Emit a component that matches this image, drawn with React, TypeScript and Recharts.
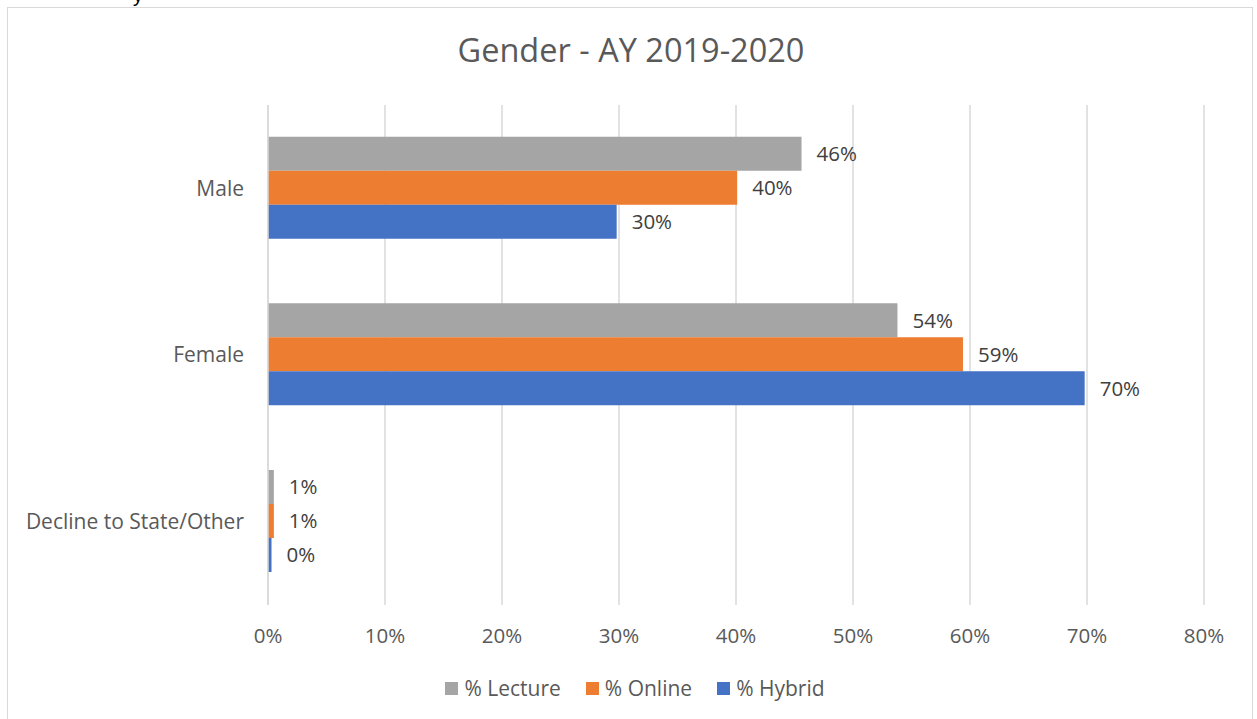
import React from 'react';
import { BarChart, Bar, XAxis, YAxis, CartesianGrid, Legend, LabelList } from 'recharts';

const categories = ['Male', 'Female', 'Decline to State/Other'];
const lecture = [45.6, 53.8, 0.5];
const online = [40.1, 59.4, 0.5];
const hybrid = [29.8, 69.8, 0.3];
const xTicks = [0, 10, 20, 30, 40, 50, 60, 70, 80];
const seriesNames = ['% Lecture', '% Online', '% Hybrid'];
const colors = ['#A5A5A5', '#ED7D31', '#4472C4'];

const data = categories.map((c, i) => ({
  name: c,
  lecture: lecture[i],
  online: online[i],
  hybrid: hybrid[i],
}));

const FONT = '"Open Sans", sans-serif';
const FS = 20.5;

const fmt = (v: any) => `${Math.round(Number(v))}%`;

const LegendContent = () => (
  <div style={{ display: 'flex', justifyContent: 'center', alignItems: 'center', height: 56, marginTop: -3, fontFamily: FONT, fontSize: 21, color: '#595959' }}>
    {seriesNames.map((n, i) => (
      <div key={n} style={{ display: 'flex', alignItems: 'center', marginRight: i < 2 ? 25 : 0 }}>
        <div style={{ width: 13, height: 13, background: colors[i], marginRight: 6 }} />
        <span>{n}</span>
      </div>
    ))}
  </div>
);

export default function App() {
  return (
    <div style={{ position: 'absolute', left: 0, top: 0, width: 1257, height: 719, background: '#fff', overflow: 'hidden' }}>
      <div style={{ position: 'absolute', left: 133, top: -16, fontFamily: '"Liberation Sans", sans-serif', fontSize: 20, color: '#000' }}>y</div>
      <div style={{ position: 'absolute', left: 7, top: 7, width: 1246, height: 730, border: '1.5px solid #D9D9D9', boxSizing: 'border-box' }} />
      <div style={{ position: 'absolute', left: 0, top: 27, width: 1262, textAlign: 'center', fontFamily: FONT, fontSize: 32.5, color: '#595959' }}>
        Gender - AY 2019-2020
      </div>
      <div style={{ position: 'absolute', left: 0, top: 0 }}>
        <BarChart
          width={1257}
          height={719}
          data={data}
          layout="vertical"
          margin={{ top: 105, right: 53, left: 0, bottom: 0 }}
          barCategoryGap="19%"
          barGap={0}
        >
          <CartesianGrid horizontal={false} vertical={true} stroke="#D9D9D9" strokeWidth={1.5} />
          <XAxis
            type="number"
            domain={[0, 80]}
            ticks={xTicks}
            tickFormatter={(v: number) => `${v}%`}
            axisLine={false}
            tickLine={false}
            tickMargin={17}
            height={58}
            tick={{ fill: '#595959', fontSize: FS, fontFamily: FONT }}
            interval={0}
          />
          <YAxis
            type="category"
            dataKey="name"
            width={268}
            axisLine={{ stroke: '#D9D9D9', strokeWidth: 1.5 }}
            tickLine={false}
            tickMargin={18}
            tick={{ fill: '#595959', fontSize: 21, fontFamily: FONT }}
            interval={0}
          />
          <Legend verticalAlign="bottom" height={56} wrapperStyle={{ left: 0, width: 1270 }} content={<LegendContent />} />
          <Bar dataKey="lecture" name={seriesNames[0]} fill={colors[0]} isAnimationActive={false}>
            <LabelList dataKey="lecture" position="right" offset={15} formatter={fmt} style={{ fill: '#404040', fontSize: FS, fontFamily: FONT }} />
          </Bar>
          <Bar dataKey="online" name={seriesNames[1]} fill={colors[1]} isAnimationActive={false}>
            <LabelList dataKey="online" position="right" offset={15} formatter={fmt} style={{ fill: '#404040', fontSize: FS, fontFamily: FONT }} />
          </Bar>
          <Bar dataKey="hybrid" name={seriesNames[2]} fill={colors[2]} isAnimationActive={false}>
            <LabelList dataKey="hybrid" position="right" offset={15} formatter={fmt} style={{ fill: '#404040', fontSize: FS, fontFamily: FONT }} />
          </Bar>
        </BarChart>
      </div>
    </div>
  );
}
